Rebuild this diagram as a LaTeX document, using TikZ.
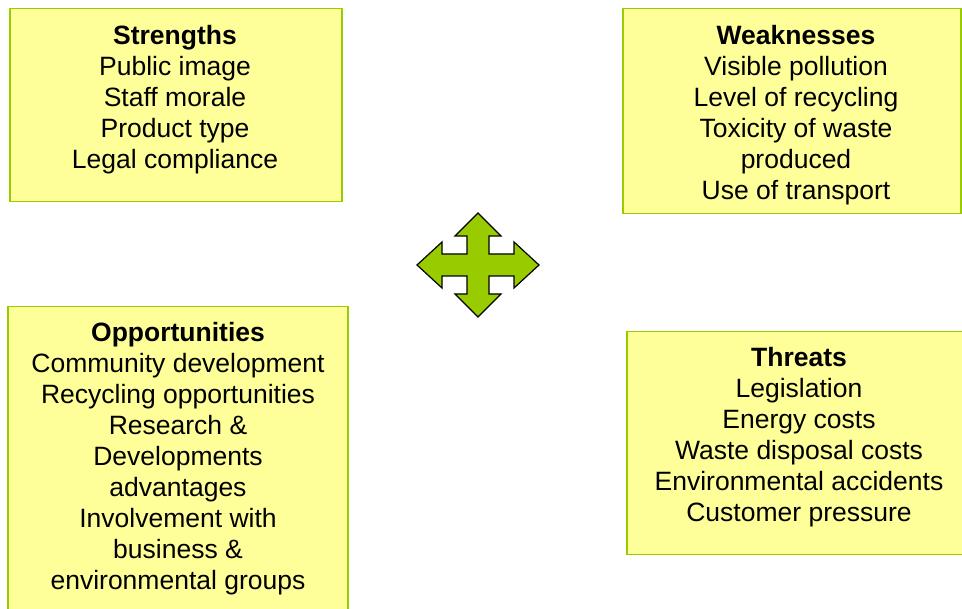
\documentclass[tikz,border=0pt]{standalone}
\usepackage{fontspec}
\setmainfont{Liberation Sans}
\usepackage{tikz}
\usetikzlibrary{positioning}
\definecolor{boxfill}{HTML}{FFFF99}
\definecolor{boxline}{HTML}{99CC00}
\definecolor{arrowfill}{HTML}{99CC00}

\begin{document}
\begin{tikzpicture}[x=1pt,y=-1pt, box/.style={draw=boxline,fill=boxfill,line width=1.5pt,anchor=north west,inner sep=0pt}, boxtext/.style={anchor=north,align=center,inner sep=0pt,font=\fontsize{26.5}{31}\selectfont}]
\useasboundingbox (0,0) rectangle (962,609);
\node[box,minimum width=332,minimum height=193] (strengths) at (9,8) {};
\node[box,minimum width=338,minimum height=205] (weaknesses) at (622,8) {};
\node[box,minimum width=340,minimum height=320] (opportunities) at (7,306) {};
\node[box,minimum width=336,minimum height=223] (threats) at (626,331) {};
\node[boxtext] (strengthstext) at (175,25) {\textbf{Strengths}\\Public image\\Staff morale\\Product type\\Legal compliance};
\node[boxtext] (weaknessestext) at (796,25) {\textbf{Weaknesses}\\Visible pollution\\Level of recycling\\Toxicity of waste\\produced\\Use of transport};
\node[boxtext] (opportunitiestext) at (178,322) {\textbf{Opportunities}\\Community development\\Recycling opportunities\\Research \&\\Developments\\advantages\\Involvement with\\business \&\\environmental groups};
\node[boxtext] (threatstext) at (799,347) {\textbf{Threats}\\Legislation\\Energy costs\\Waste disposal costs\\Environmental accidents\\Customer pressure};
% four way arrow in the middle
\coordinate (hub) at (478,265);
\draw[fill=arrowfill,line width=1.2pt,line join=miter,shift={(hub)}] (0,-52)--(23,-29)--(11,-29)--(11,-11)--(36,-11)--(36,-23)--(61,0)--(36,23)--(36,11)--(11,11)--(11,29)--(23,29)--(0,52)--(-23,29)--(-11,29)--(-11,11)--(-36,11)--(-36,23)--(-61,0)--(-36,-23)--(-36,-11)--(-11,-11)--(-11,-29)--(-23,-29)--cycle;
\end{tikzpicture}
\end{document}
